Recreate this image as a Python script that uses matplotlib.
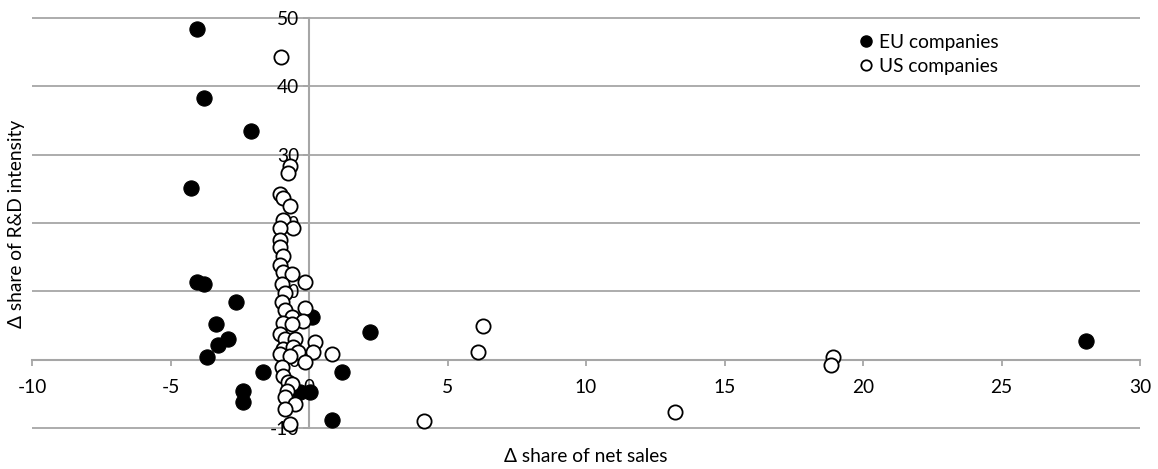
import matplotlib
matplotlib.use("Agg")
import matplotlib.pyplot as plt
from matplotlib.lines import Line2D

plt.rcParams['font.family'] = ['Lato', 'DejaVu Sans']

# EU companies: (Δ share of net sales, Δ share of R&D intensity)
eu_x = [-4.04, -3.79, -2.09, -4.26, -4.04, -3.79, -2.64, -3.36, -2.92, -3.28,
        -3.68, -1.66, -2.38, -2.38, 0.10, 2.20, 1.19, 0.83, -0.32, 0.04, 28.05]
eu_y = [48.4, 38.3, 33.4, 25.1, 11.4, 11.1, 8.4, 5.2, 3.0, 2.1,
        0.4, -1.8, -4.6, -6.2, 6.2, 4.1, -1.8, -8.8, -4.7, -4.7, 2.7]

# US companies
us_x = [-1.01, -0.69, -0.76, -1.05, -0.94, -0.69, -0.94, -0.58, -1.05, -1.05,
        -1.05, -0.94, -1.05, -0.94, -0.61, -0.16, -0.97, -0.87, -0.97, -0.16,
        -0.87, -0.61, -0.22, -0.94, -0.61, -1.05, -0.87, -0.51, 0.22, -0.94,
        -0.58, 0.14, -0.40, 0.83, -1.05, -0.69, -0.14, -0.97, -0.94, -0.76,
        -0.61, -0.79, -0.87, -0.51, -0.87, -0.69,
        6.28, 6.10, 18.92, 18.85, 13.21, 4.15]
us_y = [44.3, 28.4, 27.3, 24.3, 23.7, 22.5, 20.4, 19.3, 19.2, 17.5,
        16.5, 15.1, 13.9, 12.8, 12.5, 11.4, 11.0, 9.8, 8.4, 7.6,
        7.3, 6.3, 5.6, 5.4, 5.2, 3.7, 3.0, 3.0, 2.6, 1.5,
        1.8, 1.1, 1.1, 0.8, 0.8, 0.5, -0.4, -1.1, -2.4, -3.3,
        -3.6, -4.6, -5.5, -6.5, -7.2, -9.4,
        4.9, 1.1, 0.35, -0.8, -7.6, -9.0]

x_ticks = [-10, -5, 0, 5, 10, 15, 20, 25, 30]
y_ticks = [-10, 0, 10, 20, 30, 40, 50]
x_title = "Δ share of net sales"
y_title = "Δ share of R&D intensity"
series_names = ["EU companies", "US companies"]

FS = 13.8
W, H = 1158, 469
fig = plt.figure(figsize=(W / 100, H / 100), dpi=100)
L, R, T, B = 32, 1140, 18, 428
ax = fig.add_axes([L / W, 1 - B / H, (R - L) / W, (B - T) / H])
ax.set_xlim(-10, 30)
ax.set_ylim(-10, 50)

grid_col = '#a6a6a6'
ax.hlines([t for t in y_ticks if t != 0], -10, 30, colors=grid_col,
          linewidth=1.3, clip_on=False, zorder=1)

for s in ['top', 'right']:
    ax.spines[s].set_visible(False)
ax.spines['left'].set_position(('data', 0))
ax.spines['bottom'].set_position(('data', 0))
for s in ['left', 'bottom']:
    ax.spines[s].set_color(grid_col)
    ax.spines[s].set_linewidth(1.5)
    ax.spines[s].set_zorder(1)

ax.set_xticks(x_ticks)
ax.set_yticks(y_ticks)
ax.set_xticklabels([str(t) for t in x_ticks])
ax.set_yticklabels([str(t) for t in y_ticks])
ax.tick_params(axis='x', direction='out', length=4, width=1.3, color=grid_col,
               pad=10, labelsize=FS, labelcolor='black')
ax.tick_params(axis='y', direction='out', length=4, width=1.3, color=grid_col,
               pad=3, labelsize=FS, labelcolor='black')

ax.scatter(eu_x, eu_y, s=120, c='black', edgecolors='black', linewidths=0.8,
           zorder=3, clip_on=False)
ax.scatter(us_x, us_y, s=105, facecolors='white', edgecolors='black',
           linewidths=1.3, zorder=4, clip_on=False)

handles = [Line2D([], [], marker='o', linestyle='none', markersize=8,
                  markerfacecolor='black', markeredgecolor='black'),
           Line2D([], [], marker='o', linestyle='none', markersize=7.5,
                  markerfacecolor='white', markeredgecolor='black', markeredgewidth=1.3)]
fig.legend(handles, series_names, loc='upper left',
           bbox_to_anchor=(858 / W, 1 - 34 / H), frameon=False,
           fontsize=FS, handlelength=0.8, handletextpad=0.3,
           labelspacing=0.35, borderpad=0, borderaxespad=0)

fig.text(586 / W, 1 - 456 / H, x_title, ha='center', va='center', fontsize=FS)
fig.text(17 / W, 1 - 224 / H, y_title, ha='center', va='center',
         rotation=90, fontsize=FS)

fig.savefig('out.png', dpi=100)
